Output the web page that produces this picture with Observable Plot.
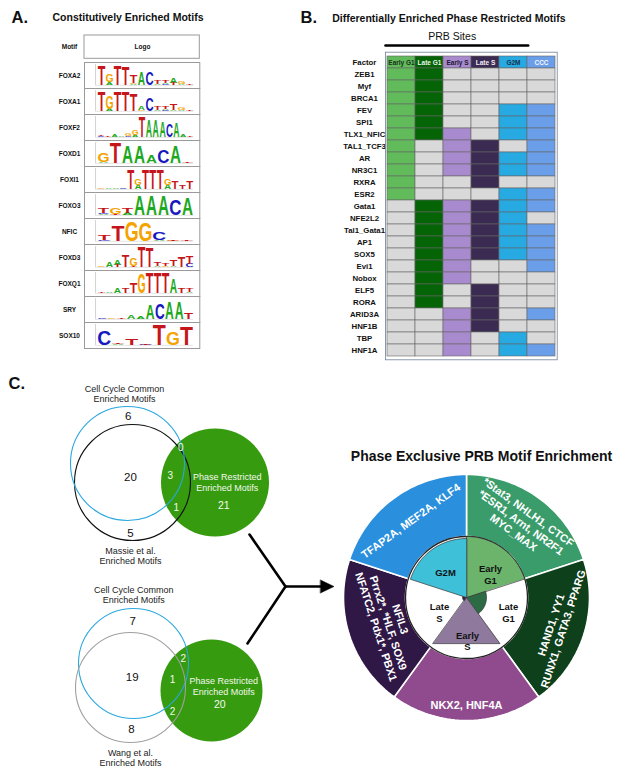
<!DOCTYPE html>
<html><head><meta charset="utf-8">
<script src="https://cdn.jsdelivr.net/npm/d3@7"></script>
<script src="https://cdn.jsdelivr.net/npm/@observablehq/plot@0.6"></script>
<style>
html,body{margin:0;padding:0;background:#fff;}
#root{position:relative;width:622px;height:775px;overflow:hidden;background:#fff;}
</style></head><body><div id="root"></div>
<script>
// ================= DATA =================
// Panel A: constitutively enriched motifs, logo columns (letter + bits, bottom to top)
const motifs = ["FOXA2","FOXA1","FOXF2","FOXD1","FOXI1","FOXO3","NFIC","FOXD3","FOXQ1","SRY","SOX10"];
const logos = [
  ["T1.9","A.3G.8","T1.95","T1.75","A.1G.1T.8","A1.3","C1.25","A.15T.35","C.1A.1T.3","T.2A.5","A.1G.25","T.05"],
  ["T1.9","A.25G1.3","T1.95","T1.9","T1.6","G.1A.35","C1.35","A.15T.35","C.1A.15T.25","A.1T.6","A.1G.2","T.05"],
  ["C.1T.15","T.05","A.2","A.1","C.1G.2","A.2G.55","T2","A1.6","A1.6","A1.55","C1.35","A1.35","A.2","T.05"],
  ["A.1G.85","T2","A1.65","A1.65","A.75","C1.3","A1.6","T.05"],
  ["G.15","A.08","A.05","C.05","T1.9","A.45G.6","T1.95","T1.95","T1.95","A.45G.6","T.8","T.4","T.75"],
  ["A.15C.1T.45","T.1G.6","A.2T.45","A1.9","A1.9","A1.9","C1.6","A1.7"],
  ["C.15T.45","T1.5","G1.95","G1.9","A.1C.8","G.05T.05","T.05"],
  ["G.1","A.55","T.2A.55","T1.1","T.1G.8","T2","T1.9","A.1T.4","G.1T.25","A.1T.65","T1.0","C.35T.8"],
  ["T.05","A.05","A.55","T.45","T1.0","G1.9","T2","T2","T2","A1.4","T.55","A.1T.35"],
  ["C.05","G.05","T.1","A.4","A.3","A1.4","C1.6","A1.7","A1.6","T.6"],
  ["C1.5","A.1T.08","T.6","C.05T.05","T2","G1.3","T1.8"]
];

// Panel B: differentially enriched phase restricted motifs
const phases = ["Early G1","Late G1","Early S","Late S","G2M","CCC"];
const factors = ["ZEB1","Myf","BRCA1","FEV","SPI1","TLX1_NFIC","TAL1_TCF3","AR","NR3C1","RXRA","ESR2",
  "Gata1","NFE2L2","Tal1_Gata1","AP1","SOX5","Evi1","Nobox","ELF5","RORA","ARID3A","HNF1B","TBP","HNF1A"];
const enrichment = ["110000","110000","110000","110011","110011","111011","101101","101111","101111","100100","100011",
  "011111","011110","011111","011111","011111","011001","011000","010100","010100","001101","001100","001010","001011"];

// Panel C: Venn counts (regions: CCC only, CCC∩set, set only, CCC∩PRB, all three, set∩PRB, PRB only)
const vennSetLabels = ["Cell Cycle Common\nEnriched Motifs","Massie et al.\nEnriched Motifs","Wang et al.\nEnriched Motifs","Phase Restricted\nEnriched Motifs"];
const massieCounts = [6, 20, 5, 0, 3, 1, 21];
const wangCounts = [7, 19, 8, 2, 1, 2, 20];

// Panel C: phase exclusive PRB motif enrichment
const donutPhases = ["Early G1","Late G1","Early S","Late S","G2M"];
const donutInnerExtent = [61, 20, 57, 4, 59];
const donutFactors = [
  "*Stat3, NHLH1, CTCF\n*ESR1, Arnt, NR2F1\nMYC_MAX",
  "HAND1, YY1\nRUNX1, GATA3, PPARG",
  "NKX2, HNF4A",
  "NFIL3\nPrrx2*, *HLF, SOX9\nNFATC2, Pdx1*, PBX1",
  "TFAP2A, MEF2A, KLF4"
];

// ================= STYLES / LAYOUT =================
const FONT = "'Liberation Sans', Arial, Helvetica, sans-serif";
const W = 622, H = 775;
const letterColors = {A:"#1ea81e", C:"#1818bf", G:"#f4a300", T:"#c5161c"};
const letterCap = {A:0.716, C:0.74, G:0.74, T:0.716};
const letterInk = {A:0.71, C:0.64, G:0.69, T:0.58};
const phaseColors = {"Early G1":"#62bb5a","Late G1":"#056405","Early S":"#a88bce","Late S":"#3b2a52","G2M":"#27a9e1","CCC":"#6a9ee8"};
const phaseText = {"Early G1":"#16301a","Late G1":"#e8f5e8","Early S":"#1d1830","Late S":"#f2eef8","G2M":"#173450","CCC":"#f4f7ff"};
const outerColors = {"Early G1":"#3a9c6b","Late G1":"#0f401c","Early S":"#8f4b8e","Late S":"#2f1746","G2M":"#2a8fdc"};
const innerColors = {"Early G1":"#6cb46c","Late G1":"#2c6b43","Early S":"#8f7a9e","Late S":"#3a2050","G2M":"#3ec1d8"};
const offColor = "#d9d9d9";
const donut = {cx:466, cy:597, r0:61, r1:123};
const donutLabelR = [93, 95, 107, 82, 95];
const donutInnerLabelPos = [[490,574],[508,612],[467,640.5],[439,612],[445,572]];
const vennLayouts = [
  {circles:[{x:214.5,y:482,r:54},{x:127,y:463,r:57,stroke:"#2aa8de"},{x:132,y:482,r:58,stroke:"#111"}],
   setPos:[[124,393.3],[130,555.5]], prbLabel:[226.7,481.2],
   regions:[[127.7,416],[130,476.7],[130,532.7],[180.3,447.3],[169.7,475],[175.7,507.3],[223.3,505]]},
  {circles:[{x:211,y:690,r:51},{x:133,y:663,r:55,stroke:"#2aa8de"},{x:130,y:687,r:55,stroke:"#a0a0a0"}],
   setPos:[[133.3,594.2],[130,757.3]], prbLabel:[223.3,685.3],
   regions:[[132.3,620.7],[131.7,677.3],[131,729.3],[182.7,658.3],[172,679],[172,711],[219.3,704.3]]}
];
const vennCounts = [massieCounts, wangCounts];
const vennNames = [vennSetLabels[1], vennSetLabels[2]];

// ================= PANEL A (logos) =================
const F = 10;
const letters = [];
motifs.forEach((m, mi) => {
  const cols = logos[mi], n = cols.length;
  cols.forEach((col, ci) => {
    let y0 = 0;
    for (const mt of col.matchAll(/([ACGT])([\d.]+)/g)) {
      const bits = +mt[2];
      letters.push({motif:m, letter:mt[1], x:(ci + 0.5) / n, w:1 / n, y0, bits});
      y0 += bits;
    }
  });
});

const plotA = Plot.plot({
  width: 200, height: 356,
  marginLeft: 84, marginRight: 0.7, marginTop: 58.3, marginBottom: 3.3,
  style: {fontFamily: FONT, background: "transparent", overflow: "visible"},
  x: {domain: [-0.135, 1.066], axis: null},
  y: {domain: [-0.3, 2.2], axis: null},
  fy: {domain: motifs, padding: 0, axis: null},
  color: {type: "identity"},
  marks: [
    Plot.frame({stroke: "#9a9a9a"}),
    Plot.ruleX([-0.02], {y1: 0, y2: 2, stroke: "#b5b5b5", strokeWidth: 0.6}),
    Plot.ruleY([0], {x1: -0.02, x2: 1.0, stroke: "#d5d5d5", strokeWidth: 0.6}),
    Plot.text(motifs, {fy: d => d, text: d => d, frameAnchor: "left", dx: -15, textAnchor: "middle", fontSize: 6.5, fontWeight: "bold", fill: "#111"}),
    Plot.text(letters, {fy: "motif", x: "x", y: "y0", text: "letter", fill: d => letterColors[d.letter],
      fontSize: F, fontWeight: "bold", lineAnchor: "bottom", textAnchor: "middle",
      title: (d, i) => "L" + i})
  ]
});
{
  const ys = plotA.scale("y"), xs = plotA.scale("x");
  let pxPerBit = ys && ys.apply ? Math.abs(ys.apply(1) - ys.apply(0)) : 0;
  if (!(pxPerBit > 0)) pxPerBit = ((356 - 58.3 - 3.3) / motifs.length) / 2.5;
  let pxPerUnit = xs && xs.apply ? Math.abs(xs.apply(1) - xs.apply(0)) : 0;
  if (!(pxPerUnit > 0)) pxPerUnit = 96;
  let k = 0;
  plotA.querySelectorAll("text").forEach((el) => {
    const t = el.querySelector("title");
    const isLetter = t ? /^L\d+$/.test(t.textContent) : /^[ACGT]$/.test(el.textContent);
    if (!isLetter) return;
    const i = t ? +t.textContent.slice(1) : k;
    k++;
    if (t) t.remove();
    const d = letters[i];
    const sy = Math.max(d.bits * pxPerBit / (letterCap[d.letter] * F), 0.001);
    const sx = d.w * pxPerUnit * 0.9 / (letterInk[d.letter] * F);
    let tr = el.getAttribute("transform");
    if (!tr) {
      tr = `translate(${el.getAttribute("x") || 0},${el.getAttribute("y") || 0})`;
      el.removeAttribute("x"); el.removeAttribute("y");
    }
    el.setAttribute("transform", `${tr} scale(${sx.toFixed(3)},${sy.toFixed(3)})`);
  });
}

// ================= PANEL B (heatmap) =================
const cellsB = [];
factors.forEach((f, i) => phases.forEach((p, j) => cellsB.push({factor: f, phase: p, on: enrichment[i][j] === "1"})));
const plotB = Plot.plot({
  width: 262, height: 362,
  marginLeft: 85, marginRight: 5.3, marginTop: 51.7, marginBottom: 2.7,
  style: {fontFamily: FONT, background: "transparent", overflow: "visible"},
  x: {domain: phases, padding: 0, axis: null},
  y: {domain: ["Factor", ...factors], padding: 0, axis: null},
  color: {type: "identity"},
  marks: [
    Plot.cell(phases, {x: d => d, y: () => "Factor", fill: d => phaseColors[d], stroke: "#666", strokeWidth: 0.6, inset: 0}),
    Plot.cell(cellsB, {x: "phase", y: "factor", fill: d => d.on ? phaseColors[d.phase] : offColor, stroke: "#666", strokeWidth: 0.6, inset: 0}),
    Plot.text(phases, {x: d => d, y: () => "Factor", text: d => d, fill: d => phaseText[d], fontSize: 6.5, fontWeight: "bold"}),
    Plot.text(["Factor", ...factors], {y: d => d, text: d => d, frameAnchor: "left", dx: -21, textAnchor: "middle", fontSize: 7.8, fontWeight: "bold", fill: "#111"}),
    Plot.frame({stroke: "#6f7f98", strokeWidth: 0.8})
  ]
});

// ================= LAYOUT PLOT (titles, Venn, donut) =================
const rad = a => a * Math.PI / 180;
const pt = (r, a) => ({x: donut.cx + r * Math.sin(rad(a)), y: donut.cy - r * Math.cos(rad(a))});
const nSeg = donutPhases.length;
const ringPts = [], wedgePts = [];
donutPhases.forEach((p, i) => {
  const a0 = i * 360 / nSeg, a1 = (i + 1) * 360 / nSeg;
  for (let k = 0; k <= 40; k++) ringPts.push({seg: p, ...pt(donut.r1, a0 + (a1 - a0) * k / 40)});
  for (let k = 40; k >= 0; k--) ringPts.push({seg: p, ...pt(donut.r0, a0 + (a1 - a0) * k / 40)});
  const steps = p === "Early S" ? 1 : 30;
  wedgePts.push({seg: p, x: donut.cx, y: donut.cy});
  for (let k = 0; k <= steps; k++) wedgePts.push({seg: p, ...pt(donutInnerExtent[i], a0 + (a1 - a0) * k / steps)});
});
const outerLabels = donutPhases.map((p, i) => {
  const a = (i + 0.5) * 360 / nSeg;
  const q = pt(donutLabelR[i], a);
  return {x: q.x, y: q.y, t: donutFactors[i], rot: (a > 90 && a < 270) ? a - 180 : (a > 180 ? a - 360 : a)};
});
const innerLabels = donutPhases.map((p, i) => ({x: donutInnerLabelPos[i][0], y: donutInnerLabelPos[i][1], t: p.replace(" ", "\n")}));

const vennCircleFill = [], vennCircleLine = [], vennBlack = [], vennWhite = [], vennSetTexts = [], vennPrbTexts = [], vennPrbCount = [];
vennLayouts.forEach((v, vi) => {
  vennCircleFill.push(v.circles[0]);
  vennCircleLine.push(v.circles[1], v.circles[2]);
  vennSetTexts.push({x: v.setPos[0][0], y: v.setPos[0][1], t: vennSetLabels[0]});
  vennSetTexts.push({x: v.setPos[1][0], y: v.setPos[1][1], t: vennNames[vi]});
  vennPrbTexts.push({x: v.prbLabel[0], y: v.prbLabel[1], t: vennSetLabels[3]});
  vennCounts[vi].forEach((c, ri) => {
    const item = {x: v.regions[ri][0], y: v.regions[ri][1], t: String(c)};
    if (ri < 3) vennBlack.push(item); else if (ri < 6) vennWhite.push(item); else vennPrbCount.push(item);
  });
});

const arrowLines = [
  {id:"a", x:249, y:534}, {id:"a", x:285, y:586},
  {id:"b", x:247, y:643}, {id:"b", x:285, y:586},
  {id:"c", x:285, y:586}, {id:"c", x:322, y:586}
];
const arrowHead = [{x:320, y:579.5}, {x:333.5, y:586}, {x:320, y:592.5}];

const T = (items, o) => Plot.text(items, {x: "x", y: "y", text: "t", ...o});

const layout = Plot.plot({
  width: W, height: H, margin: 0,
  style: {fontFamily: FONT, background: "white", overflow: "visible"},
  x: {domain: [0, W], range: [0, W], axis: null},
  y: {domain: [0, H], range: [0, H], axis: null},
  r: {type: "identity"},
  color: {type: "identity"},
  marks: [
    // panel titles
    T([{x:11, y:22, t:"A."}, {x:300, y:22, t:"B."}, {x:8, y:388.5, t:"C."}], {fontSize: 16.5, fontWeight: "bold", textAnchor: "start", lineAnchor: "bottom", fill: "#111"}),
    T([{x:52, y:20.5, t:"Constitutively Enriched Motifs"}, {x:331.7, y:21.5, t:"Differentially Enriched Phase Restricted Motifs"}], {fontSize: 10.5, fontWeight: "bold", textAnchor: "start", lineAnchor: "bottom", fill: "#111"}),
    // panel A header row
    Plot.rect([{x1:84, x2:199.3, y1:35, y2:58.3}], {x1:"x1", x2:"x2", y1:"y1", y2:"y2", fill:"white", stroke:"#9a9a9a"}),
    T([{x:69, y:46.7, t:"Motif"}, {x:142, y:46.7, t:"Logo"}], {fontSize: 6.5, fontWeight: "bold", fill: "#111"}),
    // panel B header
    T([{x:451.7, y:39.5, t:"PRB Sites"}], {fontSize: 10.5, lineAnchor: "bottom", fill: "#111"}),
    Plot.line([{x:385, y:45}, {x:527.7, y:45}], {x:"x", y:"y", stroke:"#000", strokeWidth: 2.6}),
    // Venn diagrams
    Plot.dot(vennCircleFill, {x:"x", y:"y", r:"r", fill:"#379b0f", stroke:"none"}),
    Plot.dot(vennCircleLine, {x:"x", y:"y", r:"r", fill:"none", stroke:"stroke", strokeWidth: 1.1}),
    T(vennSetTexts, {fontSize: 9, lineHeight: 1.15, fill: "#222"}),
    T(vennPrbTexts, {fontSize: 9, lineHeight: 1.2, fill: "#f2f8ee"}),
    T(vennBlack, {fontSize: 11.5, fill: "#111"}),
    T(vennWhite, {fontSize: 10, fill: "#f4f9f0"}),
    T(vennPrbCount, {fontSize: 10.5, fill: "#f4f9f0"}),
    // arrow
    Plot.line(arrowLines, {x:"x", y:"y", z:"id", stroke:"#000", strokeWidth: 2.6}),
    Plot.line(arrowHead, {x:"x", y:"y", fill:"#000", stroke:"#000", strokeWidth: 0.5, curve:"linear-closed"}),
    // donut
    T([{x:481, y:460.5, t:"Phase Exclusive PRB Motif Enrichment"}], {fontSize: 14, fontWeight: "bold", lineAnchor: "bottom", fill: "#111"}),
    Plot.line(ringPts, {x:"x", y:"y", z:"seg", fill: d => outerColors[d.seg], stroke:"white", strokeWidth: 1.6, curve:"linear-closed"}),
    Plot.dot([{x: donut.cx, y: donut.cy}], {x:"x", y:"y", r: donut.r0, fill:"white", stroke:"#222", strokeWidth: 1.3}),
    Plot.line(wedgePts, {x:"x", y:"y", z:"seg", fill: d => innerColors[d.seg], stroke:"#333", strokeWidth: 0.7, curve:"linear-closed"}),
    T(innerLabels, {fontSize: 9.5, fontWeight: "bold", lineHeight: 1.2, fill: "#111"}),
    T(outerLabels, {rotate: "rot", fontSize: 11, fontWeight: "bold", lineHeight: 1.15, fill: "white"})
  ]
});

const root = document.getElementById("root");
[[layout, 0, 0], [plotA, 0, 0], [plotB, 300, 0]].forEach(([el, left, top]) => {
  el.style.position = "absolute";
  el.style.left = left + "px";
  el.style.top = top + "px";
  el.style.maxWidth = "none";
  root.appendChild(el);
});
</script>
</body></html>
